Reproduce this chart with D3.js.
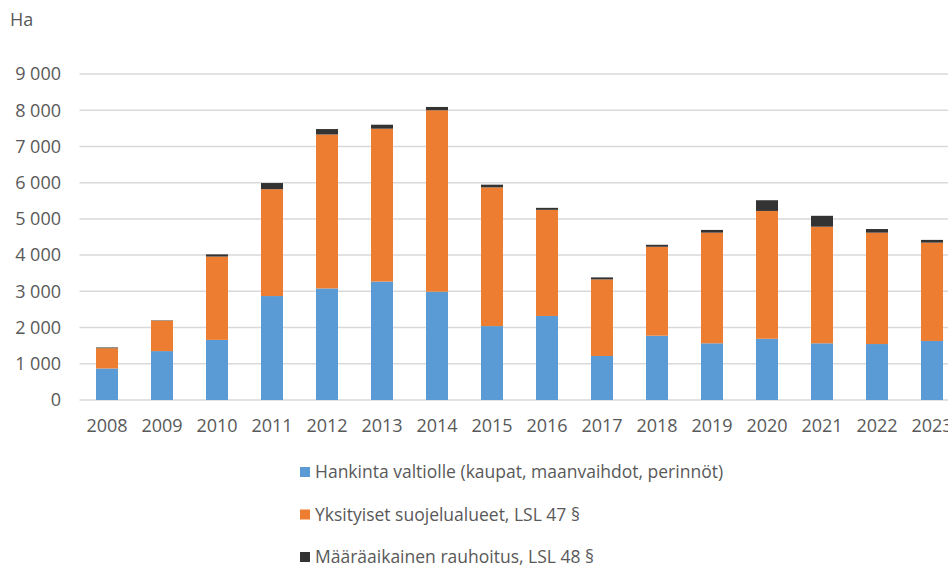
<!DOCTYPE html>
<html><head><meta charset="utf-8">
<script src="https://cdn.jsdelivr.net/npm/d3@7"></script>
<style>body{margin:0;background:#fff;} svg{display:block;} text{font-family:"Open Sans",sans-serif;fill:#595959;}</style>
</head><body>
<svg id="c" width="948" height="567"></svg>
<script>
const years = ["2008","2009","2010","2011","2012","2013","2014","2015","2016","2017","2018","2019","2020","2021","2022","2023"];
const hankinta = [870,1350,1660,2870,3080,3270,2990,2040,2320,1215,1775,1565,1690,1565,1545,1630];
const yksityiset = [560,840,2300,2950,4250,4220,5010,3830,2930,2115,2455,3055,3530,3220,3075,2715];
const maaraaikainen = [20,10,60,170,150,110,90,75,55,55,55,75,295,300,100,75];
const seriesNames = ["Hankinta valtiolle (kaupat, maanvaihdot, perinnöt)","Yksityiset suojelualueet, LSL 47 §","Määräaikainen rauhoitus, LSL 48 §"];
const colors = ["#5B9BD5","#ED7D31","#333333"];
const yTicks = [0,1000,2000,3000,4000,5000,6000,7000,8000,9000];

const svg = d3.select("#c");
const x = d3.scaleBand().domain(years).range([79.5,959.5]).paddingInner(0.6).paddingOuter(0.3);
const y = d3.scaleLinear().domain([0,9000]).range([400,74]);

const fmt = v => d3.format(",")(v).replace(/,/g," ");

// gridlines
svg.append("g").selectAll("line").data(yTicks).join("line")
  .attr("x1",79.5).attr("x2",948).attr("y1",d=>y(d)).attr("y2",d=>y(d))
  .attr("stroke","#D9D9D9").attr("stroke-width",1.5);

// y labels
svg.append("g").selectAll("text").data(yTicks).join("text")
  .attr("x",61).attr("y",d=>y(d)).attr("dy","0.35em").attr("text-anchor","end")
  .attr("font-size",18).text(fmt);

svg.append("text").attr("x",10).attr("y",26).attr("font-size",18).text("Ha");

const table = years.map((yr,i)=>({year:yr, a:hankinta[i], b:yksityiset[i], c:maaraaikainen[i]}));
const stack = d3.stack().keys(["a","b","c"])(table);
svg.append("g").selectAll("g").data(stack).join("g").attr("fill",(d,i)=>colors[i])
  .selectAll("rect").data(d=>d).join("rect")
  .attr("x",d=>x(d.data.year)).attr("width",x.bandwidth())
  .attr("y",d=>y(d[1])).attr("height",d=>y(d[0])-y(d[1]));

// x labels
svg.append("g").selectAll("text").data(years).join("text")
  .attr("x",d=>x(d)+x.bandwidth()/2).attr("y",426).attr("dy","0.35em")
  .attr("text-anchor","middle").attr("font-size",18).text(d=>d);

// legend
const leg = svg.append("g").selectAll("g").data(seriesNames).join("g")
  .attr("transform",(d,i)=>`translate(300,${472+i*42.5})`);
leg.append("rect").attr("x",0).attr("y",-5).attr("width",10).attr("height",10).attr("fill",(d,i)=>colors[i]);
leg.append("text").attr("x",15).attr("y",0).attr("dy","0.35em").attr("font-size",17.5).text(d=>d);
</script>
</body></html>
